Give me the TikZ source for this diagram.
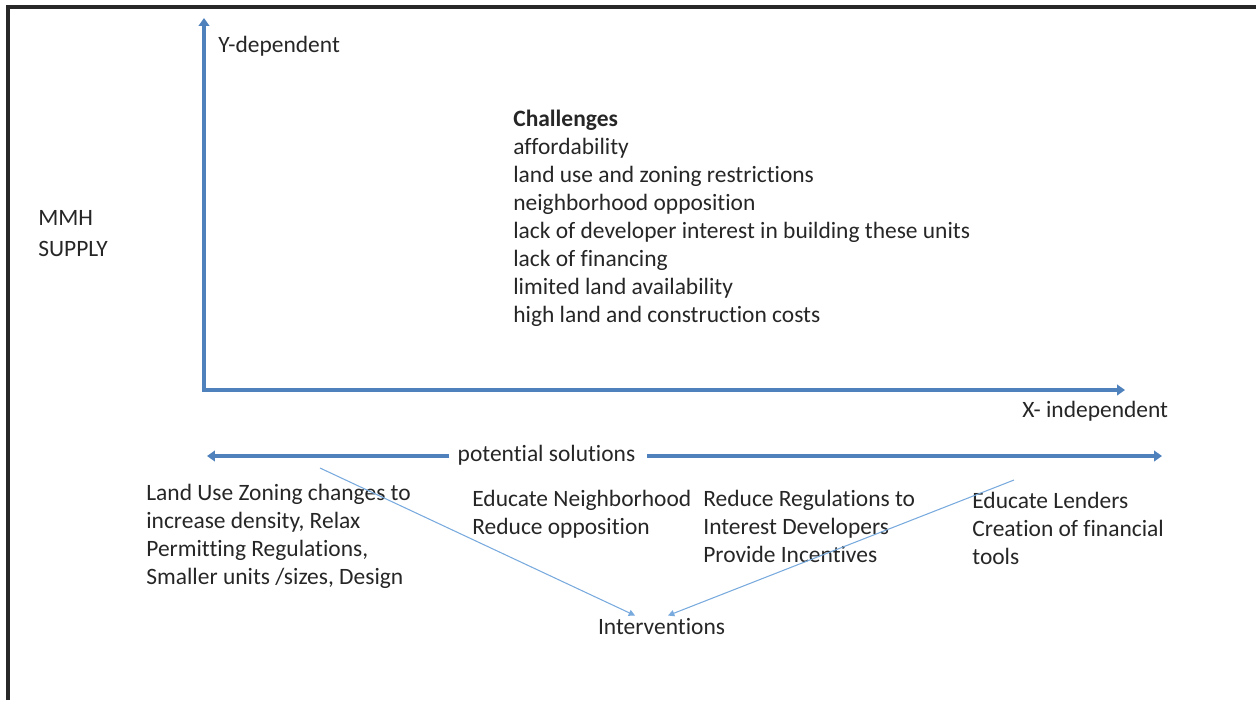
\documentclass[tikz,border=0pt]{standalone}
\usepackage{fontspec}
\setmainfont{Carlito}[Ligatures=CommonOff]
\usetikzlibrary{arrows.meta}
\definecolor{axisblue}{RGB}{79, 129, 189}
\definecolor{linkblue}{RGB}{120, 170, 222}
\definecolor{ink}{RGB}{38, 38, 38}
\definecolor{framegray}{RGB}{40, 40, 40}

\begin{document}
\begin{tikzpicture}[x=0.02cm, y=-0.02cm,
  txt/.style={font=\fontsize{13.35pt}{15.9pt}\selectfont, text=ink,
    inner sep=0pt, align=left, anchor=base west},
  axis/.style={line width=2.6pt, color=axisblue},
  arr/.style={-{Triangle[length=4.5pt, width=6pt]}, line width=2.6pt, color=axisblue},
  link/.style={-{Triangle[length=3.6pt, width=3.6pt]}, line width=0.6pt, color=linkblue}
]
\useasboundingbox (0,0) rectangle (1256,700);
% page frame, only top and left edges show
\draw[framegray, line width=2pt] (8,700) -- (8,7) -- (1256,7);

% axes (multi-line nodes sit on their last baseline)
\coordinate (origin) at (204,390);
\coordinate (ytip)   at (204,18);
\coordinate (xtip)   at (1125,390);
\draw[axis, {Triangle[length=4.5pt, width=6pt]}-{Triangle[length=4.5pt, width=6pt]}]
  (ytip) -- (origin) -- (xtip);
\node[txt] at (218, 52)  (ylab) {Y-dependent};
\node[txt] at (1022, 417) (xlab) {X- independent};
\node[txt] at (38, 256)  (supply) {MMH\\[1.6pt]SUPPLY};

% challenges list
\node[txt] at (513, 322) (chal) {\textbf{Challenges}\\affordability\\land use and zoning restrictions\\
  neighborhood opposition\\lack of developer interest in building these units\\
  lack of financing\\limited land availability\\high land and construction costs};

% potential solutions bar
\node[txt, anchor=base] at (546.5, 461) (sol) {potential solutions};
\coordinate (solL) at (207,456);
\coordinate (solR) at (1162,456);
\draw[arr] ([xshift=-4.5pt]sol.west |- solL) -- (solL);
\draw[arr] ([xshift=6.5pt]sol.east |- solR) -- (solR);

% solution groups
\node[txt] at (146, 584) (zoning) {Land Use Zoning changes to\\increase density, Relax\\
  Permitting Regulations,\\Smaller units /sizes, Design};
\node[txt] at (472, 534) (neigh) {Educate Neighborhood\\Reduce opposition};
\node[txt] at (703, 562) (devel) {Reduce Regulations to\\Interest Developers\\Provide Incentives};
\node[txt] at (972, 564) (lend) {Educate Lenders\\Creation of financial\\tools};

% interventions
\node[txt, anchor=base] at (661.5, 634) (int) {Interventions};
\coordinate (fromzoning)  at (320,468);
\coordinate (fromlenders) at (1014,480);
\draw[link] (fromzoning)  -- ([shift={(-26.5,-2)}]int.north);
\draw[link] (fromlenders) -- ([shift={(6.5,-2)}]int.north);
\end{tikzpicture}
\end{document}
